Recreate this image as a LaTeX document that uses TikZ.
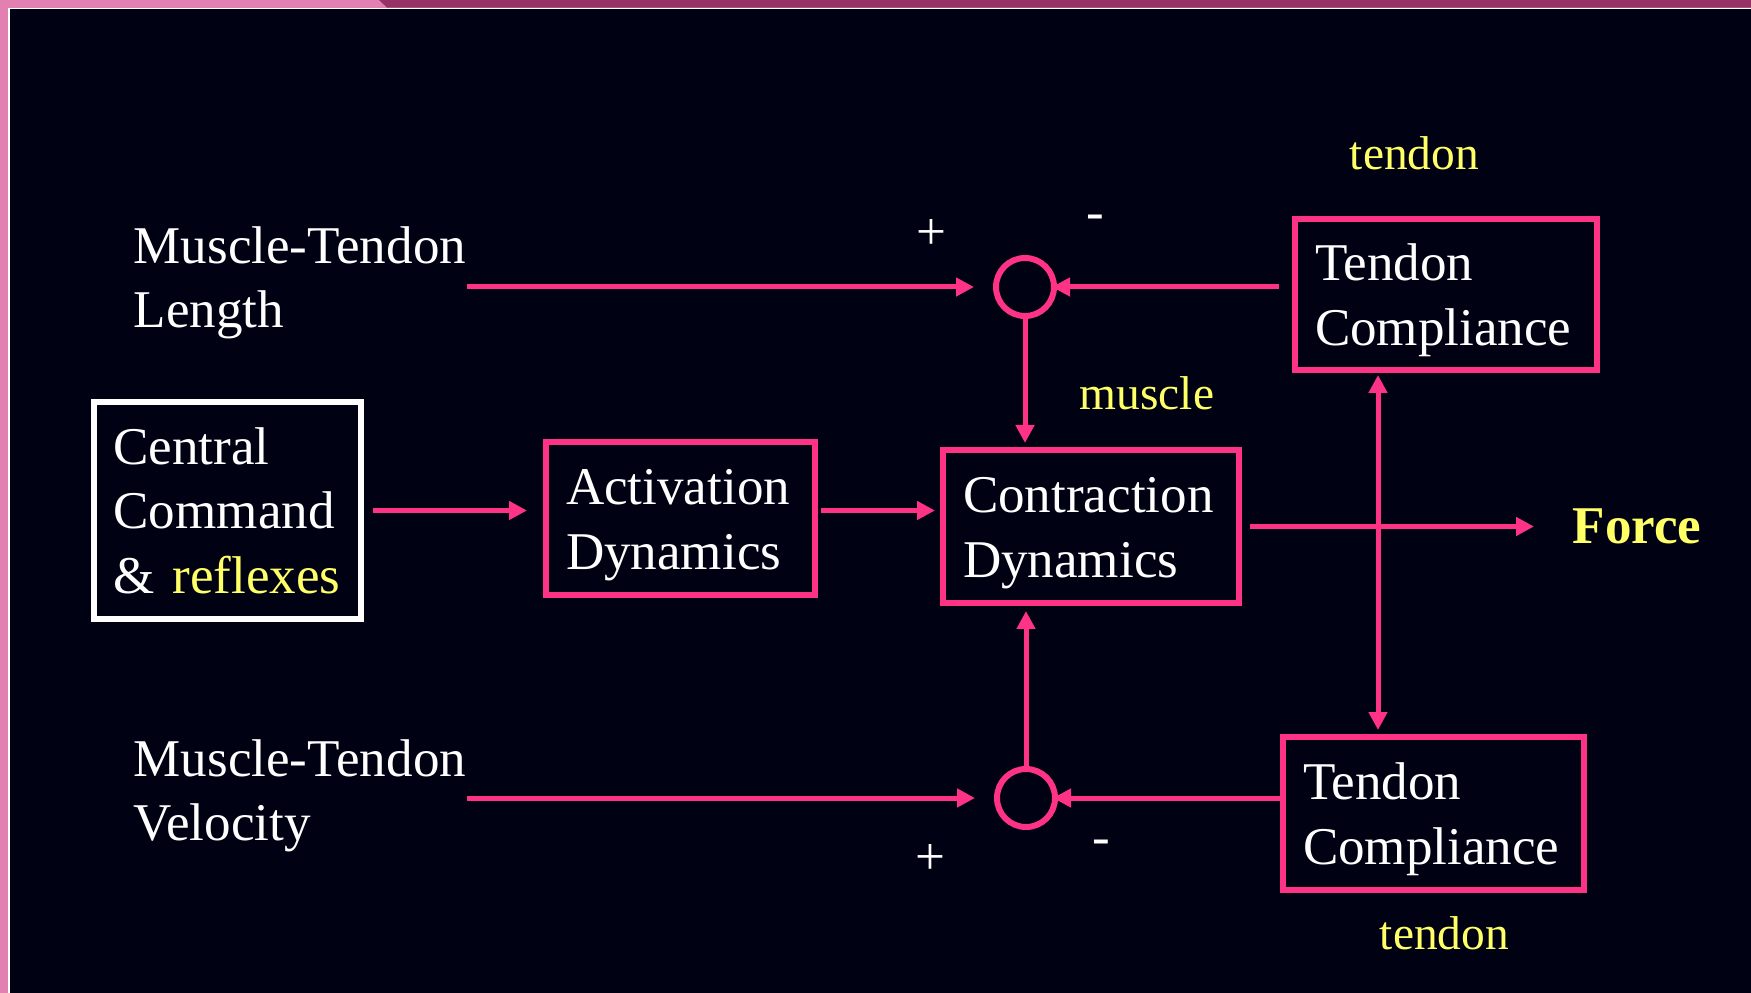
\documentclass[tikz,border=0pt]{standalone}
\usepackage{fontspec}
\setmainfont{Liberation Serif}
\usepackage{tikz}
\usepackage{xcolor}
\usetikzlibrary{arrows.meta}
\definecolor{cPink}{HTML}{FF3385}
\definecolor{cYel}{HTML}{FFFF66}
\definecolor{cBg}{HTML}{010114}
\definecolor{cEdgeL}{HTML}{E380B2}
\definecolor{cEdgeD}{HTML}{963264}
\newcommand\bigtxt{\fontsize{15.1}{18.36}\selectfont}
\newcommand\smtxt{\fontsize{13.5}{16}\selectfont}
\newcommand\tp{\rule{0pt}{4.8mm}}
\tikzset{
  >={Triangle[length=1.8mm,width=1.8mm]},
  box/.style  ={draw=cPink,line width=0.6mm,text=white,align=left,
                inner xsep=2mm,inner ysep=0pt,font=\bigtxt},
  wbox/.style ={box,draw=white},
  sum/.style  ={circle,draw=cPink,line width=0.6mm,minimum size=5.8mm,inner sep=0pt},
  ar/.style   ={->,line width=0.5mm,cPink},
  lbl/.style  ={text=white,font=\bigtxt,inner sep=0pt,align=left},
  ylbl/.style ={text=cYel,font=\smtxt,inner sep=0pt},
}

\begin{document}
\begin{tikzpicture}[x=0.1mm,y=-0.1mm]
\useasboundingbox (0,0) rectangle (1751,993);
\fill[cEdgeL] (0,0) rectangle (1751,993);
\fill[cEdgeD] (379,0) -- (1751,0) -- (1751,7.6) -- (387,7.6) -- cycle;
\fill[white] (8.4,7.6) rectangle (1751,993);
\fill[cBg] (9.6,8.8) rectangle (1751,993);

\node[wbox,text width=22.7mm,minimum height=21.7mm] (cmd) at (227,510.5) {Central\\Command\\\& \textcolor{cYel}{reflexes}};
\node[box,text width=22.9mm,minimum height=15.3mm] (act) at (680.5,518.5) {\tp Activation\\Dynamics};
\node[box,text width=25.6mm,minimum height=15.3mm] (con) at (1091,526.5) {\tp Contraction\\Dynamics};
\node[box,text width=26.2mm,minimum height=15.1mm] (tct) at (1446,294.5) {\tp Tendon\\Compliance};
\node[box,text width=26.1mm,minimum height=15.3mm] (tcb) at (1433.5,813.5) {\tp Tendon\\Compliance};

\node[lbl,anchor=west] (mtl) at (133,283) {Muscle-Tendon\\Length};
\node[lbl,anchor=west] (mtv) at (133,796) {Muscle-Tendon\\Velocity};
\node[sum] (sumt) at (1025,287) {};
\node[sum] (sumb) at (1026,798) {};
\node[lbl] (pt) at (931,235) {+};
\node[lbl] (mt) at (1095,222) {-};
\node[lbl] (pb) at (930,860) {+};
\node[lbl] (mb) at (1101,847) {-};
\node[ylbl,anchor=base] (tdt) at (1414.5,170) {tendon};
\node[ylbl,anchor=base] (tdb) at (1444.5,949) {tendon};
\node[ylbl,anchor=base] (msl) at (1147,410) {muscle};
\node[font=\bigtxt\bfseries,text=cYel,inner sep=0pt,anchor=west] (force) at (1572,526.5) {Force};
\coordinate (tap) at (1378,527);

\draw[ar,shorten >=1.9mm] (mtl.east |- sumt) -- (sumt);
\draw[ar,shorten <=1.3mm,shorten >=-0.5mm] (tct.west |- sumt) -- (sumt);
\draw[ar,shorten >=0.4mm] (sumt) -- (sumt |- con.north);
\draw[ar,shorten >=1.9mm] (mtv.east |- sumb) -- (sumb);
\draw[ar,shorten >=-0.5mm] (tcb.west |- sumb) -- (sumb);
\draw[ar,shorten >=0.5mm] (sumb) -- (sumb |- con.south);
\draw[ar,shorten <=0.9mm,shorten >=1.6mm] (cmd.east) -- (cmd.east -| act.west);
\draw[ar,shorten <=0.3mm,shorten >=0.5mm] (cmd.east -| act.east) -- (cmd.east -| con.west);
\draw[ar,shorten <=0.8mm,shorten >=3.8mm] (con.east) -- (con.east -| force.west);
\draw[ar,<->,shorten <=0.2mm,shorten >=0.4mm] (tap |- tct.south) -- (tap |- tcb.north);
\end{tikzpicture}
\end{document}
